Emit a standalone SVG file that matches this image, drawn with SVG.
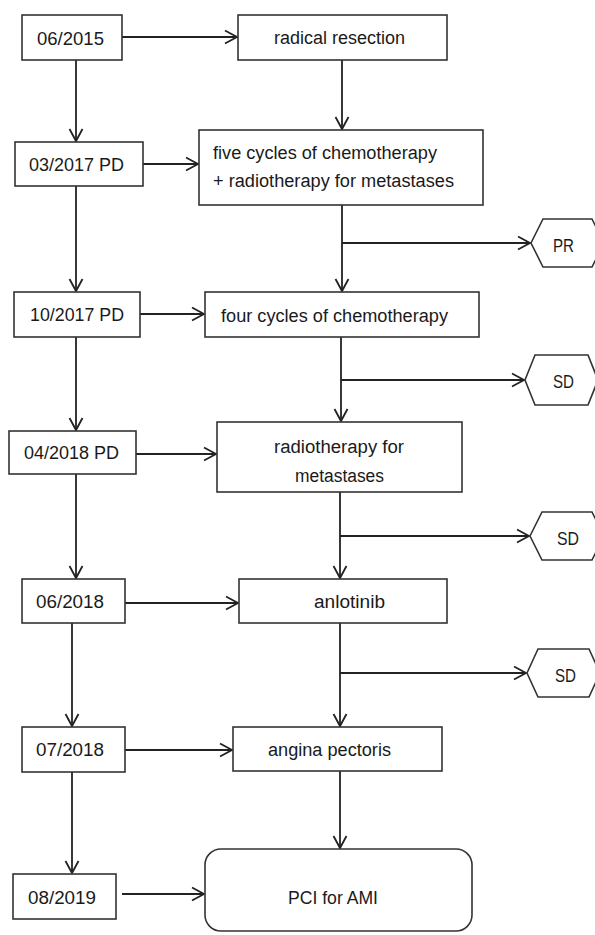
<svg xmlns="http://www.w3.org/2000/svg" width="595" height="935" viewBox="0 0 595 935">
<style>
.box{fill:#fff;stroke:#333;stroke-width:1.6}
.t{font-family:"Liberation Sans",Arial,sans-serif;font-size:18px;fill:#1a1a1a}
.c{fill:none;stroke:#222;stroke-width:1.8}
</style>
<defs>
<marker id="ah" markerUnits="userSpaceOnUse" markerWidth="16" markerHeight="18" refX="13" refY="8" orient="auto" viewBox="0 0 16 16">
<path d="M1,1.5 L13,8 L1,14.5" fill="none" stroke="#222" stroke-width="1.8"/>
</marker>
</defs>
<rect width="595" height="935" fill="#fff"/>
<g id="connectors">
<path class="c" d="M76,60 V141" marker-end="url(#ah)"/>
<path class="c" d="M76,186 V291" marker-end="url(#ah)"/>
<path class="c" d="M76,337 V430" marker-end="url(#ah)"/>
<path class="c" d="M76,474 V578" marker-end="url(#ah)"/>
<path class="c" d="M72,623 V726" marker-end="url(#ah)"/>
<path class="c" d="M72,772 V873" marker-end="url(#ah)"/>
<path class="c" d="M122,37 H237" marker-end="url(#ah)"/>
<path class="c" d="M143,164 H198" marker-end="url(#ah)"/>
<path class="c" d="M140,314 H204" marker-end="url(#ah)"/>
<path class="c" d="M136,454 H216" marker-end="url(#ah)"/>
<path class="c" d="M125,603 H238" marker-end="url(#ah)"/>
<path class="c" d="M125,750 H232" marker-end="url(#ah)"/>
<path class="c" d="M122,894 H204" marker-end="url(#ah)"/>
<path class="c" d="M342,60 V129" marker-end="url(#ah)"/>
<path class="c" d="M342,205 V291" marker-end="url(#ah)"/>
<path class="c" d="M342,243 H530" marker-end="url(#ah)"/>
<path class="c" d="M341,337 V421" marker-end="url(#ah)"/>
<path class="c" d="M341,380 H524" marker-end="url(#ah)"/>
<path class="c" d="M340,492 V578" marker-end="url(#ah)"/>
<path class="c" d="M340,536 H529" marker-end="url(#ah)"/>
<path class="c" d="M340,623 V726" marker-end="url(#ah)"/>
<path class="c" d="M340,673 H526" marker-end="url(#ah)"/>
<path class="c" d="M340,771 V848" marker-end="url(#ah)"/>
</g>
<g id="n0615"><rect class="box" x="22" y="15" width="100" height="45"/><text class="t" x="37" y="45" textLength="67" lengthAdjust="spacingAndGlyphs">06/2015</text></g>
<g id="nResection"><rect class="box" x="238" y="15" width="209" height="45"/><text class="t" x="274" y="44" textLength="131" lengthAdjust="spacingAndGlyphs">radical resection</text></g>
<g id="n0317"><rect class="box" x="15" y="142" width="128" height="44"/><text class="t" x="29" y="171" textLength="95" lengthAdjust="spacingAndGlyphs">03/2017 PD</text></g>
<g id="nFive"><rect class="box" x="199" y="130" width="284" height="75"/><text class="t" x="213" y="159" textLength="224" lengthAdjust="spacingAndGlyphs">five cycles of chemotherapy</text><text class="t" x="213" y="187" textLength="241" lengthAdjust="spacingAndGlyphs">+ radiotherapy for metastases</text></g>
<g id="nPR"><polygon class="box" points="531,243 543,219 592,219 604,243 592,267 543,267"/><text class="t" x="553" y="252" textLength="21" lengthAdjust="spacingAndGlyphs">PR</text></g>
<g id="n1017"><rect class="box" x="14" y="292" width="126" height="45"/><text class="t" x="30" y="321" textLength="94" lengthAdjust="spacingAndGlyphs">10/2017 PD</text></g>
<g id="nFour"><rect class="box" x="205" y="292" width="274" height="45"/><text class="t" x="221" y="322" textLength="227" lengthAdjust="spacingAndGlyphs">four cycles of chemotherapy</text></g>
<g id="nSD1"><polygon class="box" points="525,380 535,355 588,355 598,380 588,405 535,405"/><text class="t" x="553" y="388" textLength="21" lengthAdjust="spacingAndGlyphs">SD</text></g>
<g id="n0418"><rect class="box" x="9" y="431" width="127" height="43"/><text class="t" x="24" y="459" textLength="95" lengthAdjust="spacingAndGlyphs">04/2018 PD</text></g>
<g id="nRadio"><rect class="box" x="217" y="422" width="245" height="70"/><text class="t" x="274" y="453" textLength="130" lengthAdjust="spacingAndGlyphs">radiotherapy for</text><text class="t" x="295" y="482" textLength="89" lengthAdjust="spacingAndGlyphs">metastases</text></g>
<g id="nSD2"><polygon class="box" points="530,536 542,512 592,512 604,536 592,560 542,560"/><text class="t" x="557" y="545" textLength="22" lengthAdjust="spacingAndGlyphs">SD</text></g>
<g id="n0618"><rect class="box" x="22" y="579" width="103" height="44"/><text class="t" x="36" y="608" textLength="68" lengthAdjust="spacingAndGlyphs">06/2018</text></g>
<g id="nAnlotinib"><rect class="box" x="239" y="579" width="208" height="44"/><text class="t" x="314" y="608" textLength="71" lengthAdjust="spacingAndGlyphs">anlotinib</text></g>
<g id="nSD3"><polygon class="box" points="527,673 538,649 589,649 600,673 589,697 538,697"/><text class="t" x="555" y="682" textLength="21" lengthAdjust="spacingAndGlyphs">SD</text></g>
<g id="n0718"><rect class="box" x="22" y="727" width="103" height="45"/><text class="t" x="36" y="756" textLength="68" lengthAdjust="spacingAndGlyphs">07/2018</text></g>
<g id="nAngina"><rect class="box" x="233" y="727" width="209" height="44"/><text class="t" x="268" y="756" textLength="123" lengthAdjust="spacingAndGlyphs">angina pectoris</text></g>
<g id="n0819"><rect class="box" x="13" y="874" width="103" height="45"/><text class="t" x="28" y="904" textLength="68" lengthAdjust="spacingAndGlyphs">08/2019</text></g>
<g id="nPCI"><rect class="box" x="205" y="849" width="267" height="82" rx="16" ry="16"/><text class="t" x="288" y="904" textLength="90" lengthAdjust="spacingAndGlyphs">PCI for AMI</text></g>
</svg>
